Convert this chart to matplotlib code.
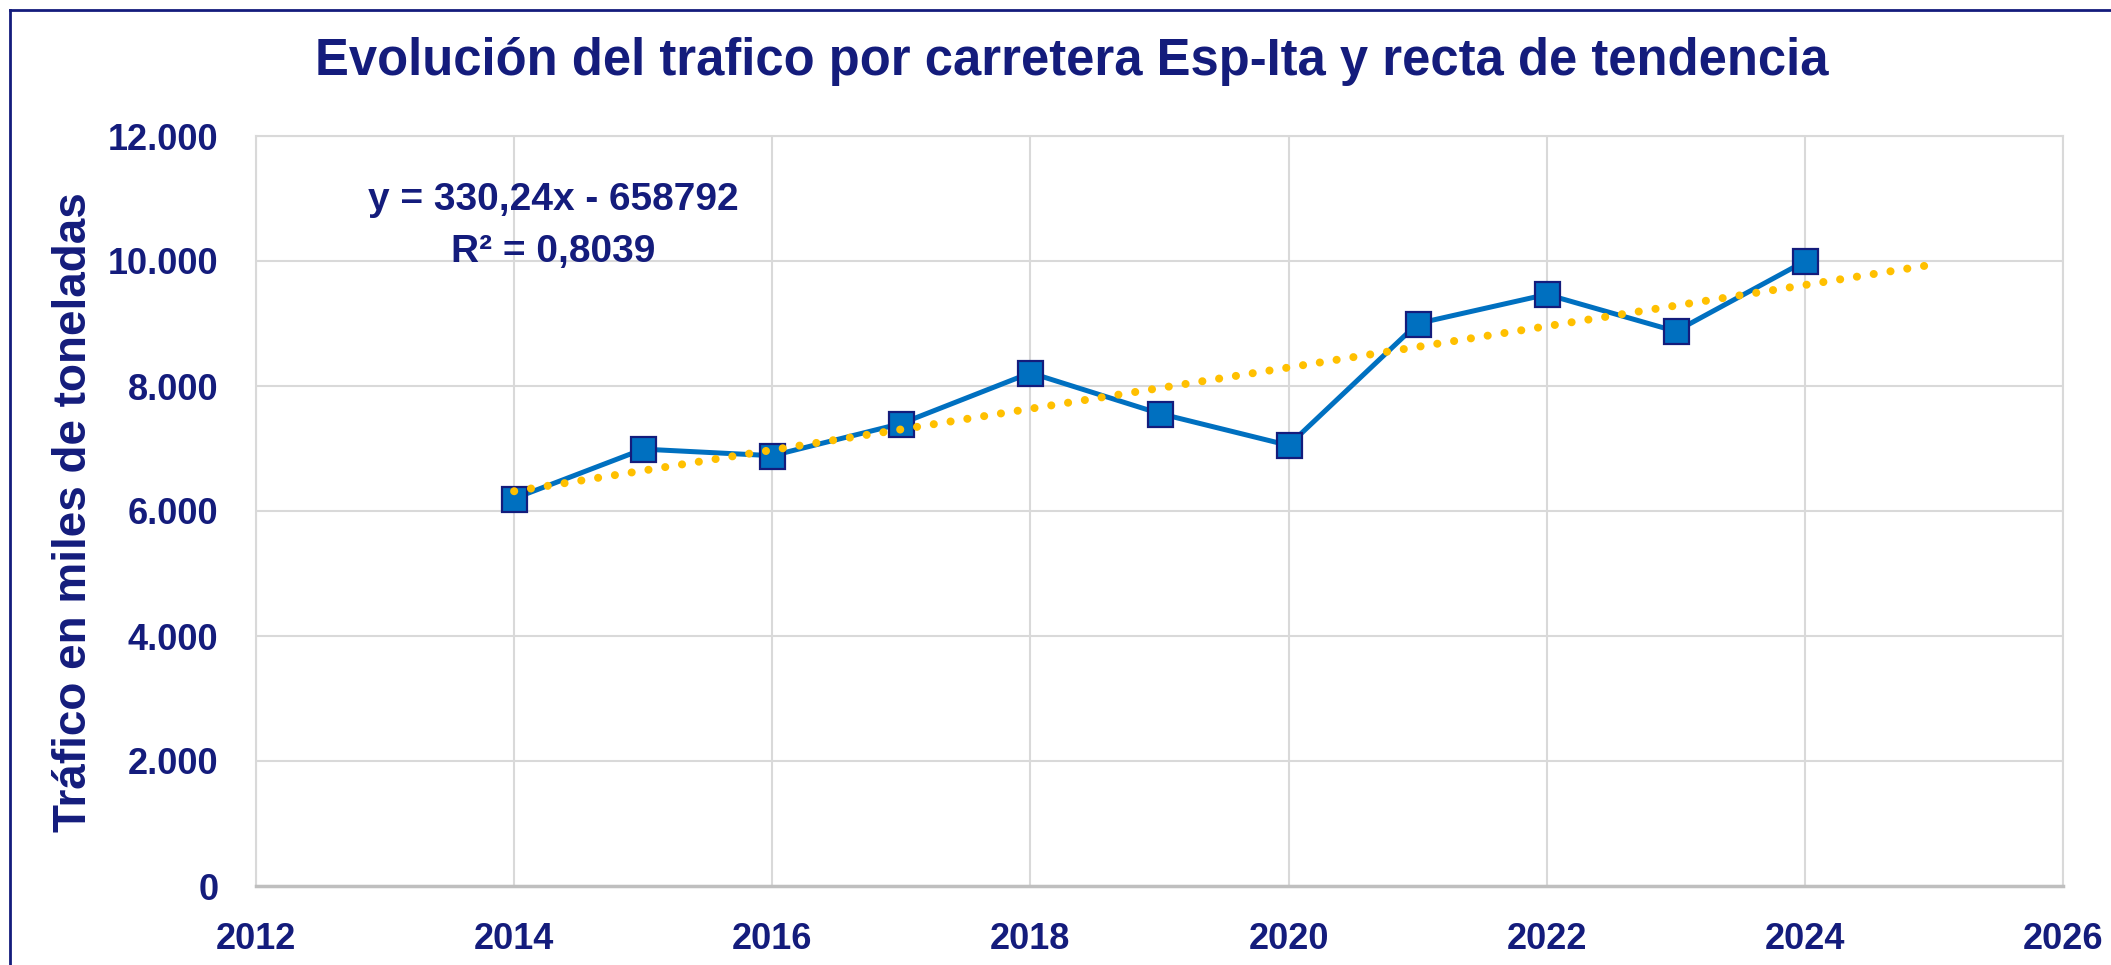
import numpy as np
import matplotlib
matplotlib.use('Agg')
import matplotlib.pyplot as plt
from matplotlib.lines import Line2D

plt.rcParams['font.family'] = ['Liberation Sans', 'DejaVu Sans']
plt.rcParams['font.weight'] = 'bold'

years = [2014, 2015, 2016, 2017, 2018, 2019, 2020, 2021, 2022, 2023, 2024]
trafico = [6200, 6990, 6885, 7400, 8210, 7560, 7050, 9000, 9465, 8875, 9995]
xticks = [2012, 2014, 2016, 2018, 2020, 2022, 2024, 2026]
yticks = [0, 2000, 4000, 6000, 8000, 10000, 12000]

navy = '#141c7c'
azul = '#0070c0'
amarillo = '#ffc000'
gris = '#d9d9d9'

fig = plt.figure(figsize=(21.11, 9.65), dpi=100)
ax = fig.add_axes([256/2111, 79/965, 1807/2111, 750/965])

# recta de tendencia (minimos cuadrados, prevision 1 periodo)
pend, orde = np.polyfit(years, trafico, 1)
xt = np.array([years[0], years[-1] + 1])

ax.plot(years, trafico, color=azul, lw=3.6, marker='s', ms=18,
        mfc=azul, mec=navy, mew=1.6, zorder=3)
ax.plot(xt, pend*xt + orde, color=amarillo, lw=5.8,
        linestyle=(0, (0.01, 2.1)), dash_capstyle='round', zorder=4)

ax.set_xlim(2012, 2026)
ax.set_ylim(0, 12000)
ax.set_xticks(xticks)
ax.set_yticks(yticks)
ax.set_yticklabels([f'{v:,}'.replace(',', '.') for v in yticks])
ax.grid(True, color=gris, lw=1.5)
ax.set_axisbelow(True)
for s in ['top', 'right', 'left']:
    ax.spines[s].set_color(gris)
    ax.spines[s].set_linewidth(1.5)
ax.spines['bottom'].set_color('#bfbfbf')
ax.spines['bottom'].set_linewidth(2.5)
ax.tick_params(length=0, pad=26, labelsize=26, labelcolor=navy)
ax.tick_params(axis='y', pad=27)
for t in ax.get_xticklabels() + ax.get_yticklabels():
    t.set_fontweight('bold')

ax.text(0.1644, 0.915, 'y = 330,24x - 658792', transform=ax.transAxes,
        ha='center', va='center', fontsize=28, color=navy, fontweight='bold')
ax.text(0.1644, 0.845, 'R² = 0,8039', transform=ax.transAxes,
        ha='center', va='center', fontsize=28, color=navy, fontweight='bold')

fig.text(1072/2111, 1 - 62/965,
         'Evolución del trafico por carretera Esp-Ita y recta de tendencia',
         ha='center', va='center', fontsize=36.5, color=navy, fontweight='bold')
fig.text(74/2111, 1 - 512/965, 'Tráfico en miles de toneladas', rotation=90,
         ha='center', va='center', fontsize=33, color=navy, fontweight='bold')

# marco del grafico
fig.add_artist(Line2D([10/2111, 1], [1 - 10/965, 1 - 10/965], color=navy, lw=2))
fig.add_artist(Line2D([10/2111, 10/2111], [0, 1 - 10/965], color=navy, lw=2))

fig.savefig('out.png', dpi=100)
